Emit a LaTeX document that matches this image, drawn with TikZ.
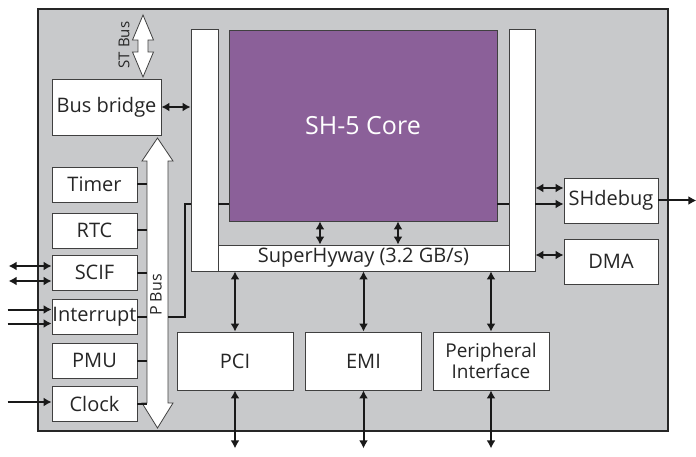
\documentclass[tikz,border=0pt]{standalone}
\usepackage{fontspec}
\setmainfont{Open Sans}
\usetikzlibrary{arrows.meta,positioning}

\begin{document}
\begin{tikzpicture}[
x=1pt, y=-1pt,
line width=0.8pt,
every node/.style={font=\fontsize{20}{22}\selectfont, text=black!85},
blk/.style={draw=black!75, fill=white, inner sep=0pt},
wire/.style={line width=2pt, draw=black!90},
link/.style={wire, {Latex[length=8pt,width=9pt]}-{Latex[length=8pt,width=9pt]}},
into/.style={wire, -{Latex[length=8pt,width=9pt]}},
fatbus/.style={draw=black!75, fill=white, line width=0.8pt}
]
\definecolor{chipgray}{RGB}{200,201,203}
\definecolor{corepurple}{RGB}{139,96,153}

\useasboundingbox (0,0) rectangle (696,457);
\draw[fill=chipgray, draw=black!85, line width=2.2pt] (38,9) rectangle (668,431);

% SuperHyway and core
\node[blk, minimum width=27pt, minimum height=242pt] (shwL) at (204.5,150) {};
\node[blk, minimum width=26pt, minimum height=242pt] (shwR) at (522,150) {};
\node[blk, minimum width=291pt, minimum height=26pt] (shwB) at (363.5,258) {SuperHyway (3.2 GB/s)};
\node[blk, fill=corepurple, minimum width=268pt, minimum height=191pt, text=white,
  font=\fontsize{25}{27}\selectfont] (core) at (363,125.5) {SH-5 Core};

% left side
\node[blk, minimum width=109pt, minimum height=56pt] (bridge) at (106.5,107) {Bus bridge};
\node[blk, minimum width=85pt, minimum height=35pt] (timer) at (94.5,184.5) {Timer};
\node[blk, minimum width=85pt, minimum height=35pt] (rtc) at (94.5,230.5) {RTC};
\node[blk, minimum width=85pt, minimum height=35pt] (scif) at (94.5,272.5) {SCIF};
\node[blk, minimum width=85pt, minimum height=35pt] (intc) at (94.5,316.5) {Interrupt};
\node[blk, minimum width=85pt, minimum height=35pt] (pmu) at (94.5,360.5) {PMU};
\node[blk, minimum width=85pt, minimum height=35pt] (clock) at (94.5,403.5) {Clock};

% right side
\node[blk, minimum width=94pt, minimum height=45pt] (shdebug) at (611,200.5) {SHdebug};
\node[blk, minimum width=94pt, minimum height=45pt] (dma) at (611,261.5) {DMA};

% bottom
\node[blk, minimum width=116pt, minimum height=58pt] (pci) at (235,361) {PCI};
\node[blk, minimum width=116pt, minimum height=58pt] (emi) at (363.5,361) {EMI};
\node[blk, minimum width=116pt, minimum height=58pt, align=center,
  font=\fontsize{19}{21}\selectfont] (periph) at (491,361) {Peripheral\\Interface};

% ST bus and P bus
\coordinate (stT) at (143,15);
\coordinate (pbT) at (157.5,138);
\coordinate (pbB) at (157.5,428);
\draw[fatbus] (stT) -- ++(10.5,25) -- ++(-5.5,0) -- ++(0,12) -- ++(5.5,0) -- ++(-10.5,25)
  -- ++(-10.5,-25) -- ++(5.5,0) -- ++(0,-12) -- ++(-5.5,0) -- cycle;
\node[rotate=90, font=\fontsize{15}{17}\selectfont] (stlabel) at (124,45) {ST Bus};
\draw[fatbus] (pbT) -- ++(15.5,23) -- ++(-5,0) -- ++(0,242) -- ++(5,0) -- (pbB)
  -- ++(-15.5,-25) -- ++(5,0) -- ++(0,-242) -- ++(-5,0) -- cycle;
\node[rotate=90, font=\fontsize{16}{18}\selectfont] (pblabel) at (156,295) {P Bus};

% connectors
\draw[link] (bridge.east) -- (bridge.east -| shwL.west);
\foreach \n in {timer,rtc,scif,intc,pmu,clock}
  \draw[wire] (\n.east) -- ++(10,0);
\coordinate (tap) at (185,204);
\draw[wire] (intc.east) ++(31,0) -- (tap |- intc.east) -- (tap) -- (tap -| shwL.west);
\draw[wire] (tap -| shwL.east) -- (tap -| core.west);
\draw[wire] (tap -| core.east) -- (tap -| shwR.west);
\draw[into] (tap -| shwR.east) -- (tap -| shdebug.west);
\draw[link] ([yshift=12.5pt]shdebug.west) -- ([yshift=12.5pt]shdebug.west -| shwR.east);
\draw[link] ([yshift=6.5pt]dma.west) -- ([yshift=6.5pt]dma.west -| shwR.east);
\draw[into] (shdebug.east) -- ++(38,0);
\draw[link] ([xshift=-43pt]core.south) -- ([xshift=-43pt]core.south |- shwB.north);
\draw[link] ([xshift=35pt]core.south) -- ([xshift=35pt]core.south |- shwB.north);
\foreach \n in {pci,emi,periph}{
  \draw[link] (\n.north) -- (\n.north |- shwB.south);
  \draw[link] (\n.south) -- ++(0,58);
}
\draw[link] ([yshift=6.5pt]scif.west) -- ++(-43,0);
\draw[link] ([yshift=-8.5pt]scif.west) -- ++(-43,0);
\draw[into] ([yshift=7pt]intc.west) ++(-44,0) -- ([yshift=7pt]intc.west);
\draw[into] ([yshift=-7pt]intc.west) ++(-44,0) -- ([yshift=-7pt]intc.west);
\draw[into] ([yshift=1.5pt]clock.west) ++(-44,0) -- ([yshift=1.5pt]clock.west);
\end{tikzpicture}
\end{document}
